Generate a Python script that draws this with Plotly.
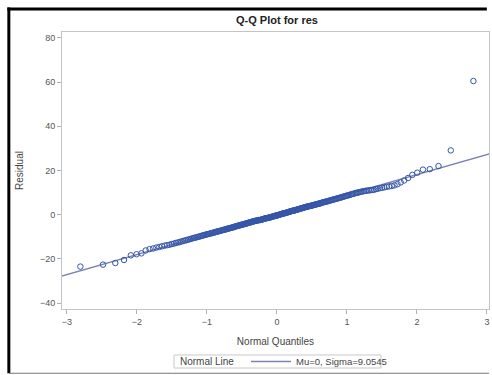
from statistics import NormalDist
import plotly.graph_objects as go

# Sorted residuals
residuals = [
    -23.5, -22.6, -21.9, -20.5, -18.4, -17.9, -17.5, -16.2, -15.6, -15.3,
    -14.9, -14.6, -14.3, -14.0, -13.8, -13.6, -13.3, -13.1, -12.8, -12.6,
    -12.4, -12.1, -11.9, -11.7, -11.5, -11.3, -11.1, -10.9, -10.7, -10.5,
    -10.4, -10.2, -10.0, -9.9, -9.7, -9.5, -9.4, -9.2, -9.1, -8.9,
    -8.8, -8.7, -8.5, -8.4, -8.3, -8.1, -8.0, -7.9, -7.7, -7.6,
    -7.5, -7.4, -7.3, -7.1, -7.0, -6.9, -6.8, -6.7, -6.6, -6.4,
    -6.3, -6.2, -6.1, -6.0, -5.9, -5.8, -5.7, -5.6, -5.4, -5.3,
    -5.2, -5.1, -5.0, -4.9, -4.8, -4.7, -4.6, -4.5, -4.4, -4.3,
    -4.2, -4.1, -4.0, -3.9, -3.8, -3.7, -3.6, -3.5, -3.4, -3.3,
    -3.2, -3.1, -3.0, -2.9, -2.8, -2.8, -2.7, -2.6, -2.5, -2.4,
    -2.5, -2.4, -2.3, -2.2, -2.1, -2.0, -1.9, -1.8, -1.7, -1.6,
    -1.6, -1.5, -1.4, -1.4, -1.3, -1.2, -1.1, -1.0, -0.9, -0.8,
    -0.7, -0.6, -0.5, -0.5, -0.4, -0.3, -0.2, -0.1, 0.0, 0.1,
    0.2, 0.3, 0.4, 0.5, 0.6, 0.6, 0.7, 0.8, 0.9, 1.0,
    1.1, 1.2, 1.3, 1.4, 1.5, 1.6, 1.7, 1.8, 1.8, 1.9,
    2.0, 2.1, 2.2, 2.3, 2.4, 2.5, 2.6, 2.7, 2.8, 2.9,
    3.0, 3.1, 3.2, 3.3, 3.4, 3.5, 3.6, 3.7, 3.8, 3.9,
    3.9, 4.0, 4.1, 4.2, 4.3, 4.4, 4.5, 4.6, 4.7, 4.8,
    4.9, 5.0, 5.1, 5.2, 5.3, 5.5, 5.6, 5.7, 5.8, 5.9,
    6.0, 6.1, 6.2, 6.3, 6.5, 6.6, 6.7, 6.8, 7.0, 7.1,
    7.2, 7.3, 7.5, 7.6, 7.7, 7.9, 8.0, 8.2, 8.3, 8.5,
    8.6, 8.8, 8.9, 9.1, 9.3, 9.4, 9.6, 9.8, 9.9, 10.1,
    10.2, 10.4, 10.5, 10.7, 10.8, 10.9, 11.0, 11.1, 11.2, 11.3,
    11.6, 11.8, 12.0, 12.2, 12.4, 12.6, 12.8, 13.0, 13.3, 13.8,
    14.6, 15.5, 16.6, 18.0, 19.0, 20.4, 20.6, 22.0, 29.1, 60.5,
]
mu = 0
sigma = 9.0545
line_ends = [-3.2, 3.2]

x_ticks = [-3, -2, -1, 0, 1, 2, 3]
y_ticks = [-40, -20, 0, 20, 40, 60, 80]

# Blom normal scores for the sorted residuals
n = len(residuals)
nd = NormalDist()
quantiles = [nd.inv_cdf((i + 1 - 0.375) / (n + 0.25)) for i in range(n)]

fig = go.Figure()
fig.add_trace(go.Scatter(
    x=line_ends, y=[mu + sigma * q for q in line_ends], mode="lines",
    line=dict(color="#7d84b6", width=1.5),
    name="Mu=0, Sigma=9.0545", showlegend=True,
))
fig.add_trace(go.Scatter(
    x=quantiles, y=residuals, mode="markers",
    marker=dict(symbol="circle-open", size=5.5, color="#3556a8", line=dict(width=1)),
    showlegend=False,
))

font = "Liberation Sans, Arial"
axis_style = dict(
    showgrid=False, zeroline=False, showline=True, linecolor="#c4c4c4",
    linewidth=1, mirror=True, ticks="outside", ticklen=4, tickcolor="#b0b0b0",
    automargin=False,
    tickfont=dict(family=font, size=9, color="#555555"),
)

fig.update_layout(
    width=492, height=375,
    margin=dict(l=62, r=3, t=32, b=66),
    paper_bgcolor="white", plot_bgcolor="white",
    title=dict(text="<b>Q-Q Plot for res</b>", x=0.563, xanchor="center",
               y=0.947, yanchor="middle", automargin=False,
               font=dict(family=font, size=11, color="#222222")),
    xaxis=dict(axis_style, range=[-3.07, 3.03], tickvals=x_ticks,
               title=dict(text="Normal Quantiles",
                          font=dict(family=font, size=10, color="#444444"))),
    yaxis=dict(axis_style, range=[-42.7, 82.7], tickvals=y_ticks,
               title=dict(text="Residual", standoff=14,
                          font=dict(family=font, size=10, color="#444444"))),
    legend=dict(orientation="h", xref="container", yref="container",
                x=0.50, xanchor="left", y=0.036, yanchor="middle",
                bgcolor="rgba(0,0,0,0)", borderwidth=0, itemwidth=40,
                font=dict(family=font, size=9.5, color="#444444")),
    annotations=[
        dict(text="Normal Line", xref="paper", yref="paper", x=0.272, y=-0.188,
             xanchor="left", yanchor="middle", showarrow=False,
             font=dict(family=font, size=10, color="#444444")),
    ],
    shapes=[
        # legend frame
        dict(type="rect", xref="paper", yref="paper", x0=0.2623, x1=0.747, y0=-0.166, y1=-0.213,
             line=dict(color="#c8c8c8", width=1), layer="below"),
        # outer frame: thick black top and left, thin grey bottom
        dict(type="line", xref="paper", yref="paper", x0=-0.128, x1=0.995, y0=1.083, y1=1.083,
             line=dict(color="black", width=3)),
        dict(type="rect", xref="paper", yref="paper", x0=-0.128, x1=-0.121, y0=1.088, y1=-0.232,
             fillcolor="black", line=dict(width=0)),
        dict(type="line", xref="paper", yref="paper", x0=-0.124, x1=1.0, y0=-0.232, y1=-0.232,
             line=dict(color="#777777", width=1)),
    ],
)

# page body has a default 8px margin; drop it so the figure fills the window
fig.write_html("out.html", config={"displayModeBar": False},
               post_script="document.body.style.margin='0';")
